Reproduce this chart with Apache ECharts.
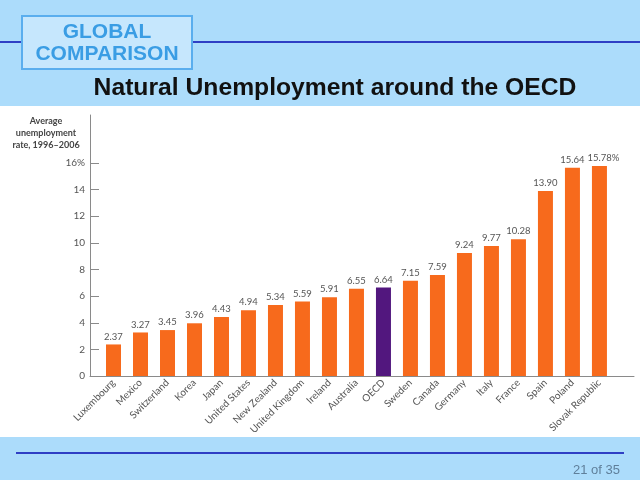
<!DOCTYPE html>
<html>
<head>
<meta charset="utf-8">
<script src="https://cdn.jsdelivr.net/npm/echarts@6/dist/echarts.min.js"></script>
<style>html,body{margin:0;padding:0;background:#acdcfb;}#c{width:640px;height:480px;}</style>
</head>
<body>
<div id="c"></div>
<script>
var categories = ['Luxembourg','Mexico','Switzerland','Korea','Japan','United States','New Zealand','United Kingdom','Ireland','Australia','OECD','Sweden','Canada','Germany','Italy','France','Spain','Poland','Slovak Republic'];
var values = [2.37,3.27,3.45,3.96,4.43,4.94,5.34,5.59,5.91,6.55,6.64,7.15,7.59,9.24,9.77,10.28,13.90,15.64,15.78];
var yTicks = [0,2,4,6,8,10,12,14,16];
var highlight = 'OECD';

var chart = echarts.init(document.getElementById('c'), null, {renderer:'canvas'});
var data = values.map(function(v,i){
  var item = {value:[i,v], itemStyle:{color: categories[i]===highlight ? '#52177e' : '#f76a1c'}};
  if (i === values.length-1) item.label = {offset:[4,0]};
  return item;
});
var chartFont = 'Lato';
var axisColor = '#8a8a8a';
chart.setOption({
  backgroundColor:'#acdcfb',
  animation:false,
  graphic:[
    {type:'rect', z:-10, shape:{x:0,y:106,width:640,height:331}, style:{fill:'#ffffff'}},
    {type:'line', shape:{x1:0,y1:42,x2:640,y2:42}, style:{stroke:'#2f3fc4',lineWidth:2}},
    {type:'rect', shape:{x:22,y:16,width:170,height:53}, style:{fill:'#c6e7fd',stroke:'#5aaeee',lineWidth:2}},
    {type:'text', x:107, y:43, style:{text:'GLOBAL\nCOMPARISON', fill:'#3a9de4', font:'bold 21px "Liberation Sans"', align:'center', verticalAlign:'middle', lineHeight:22}},
    {type:'text', x:335, y:88, style:{text:'Natural Unemployment around the OECD', fill:'#111111', font:'bold 24.7px "Liberation Sans"', align:'center', verticalAlign:'middle'}},
    {type:'line', shape:{x1:16,y1:453,x2:624,y2:453}, style:{stroke:'#2f3fc4',lineWidth:2}},
    {type:'text', x:620, y:470, style:{text:'21 of 35', fill:'#5f7f9a', font:'13px "Liberation Sans"', align:'right', verticalAlign:'middle'}},
    {type:'text', x:46, y:133, style:{text:'Average\nunemployment\nrate, 1996–2006', fill:'#444444', font:'bold 9px "Lato"', align:'center', verticalAlign:'middle', lineHeight:12}}
  ],
  grid:[
    {left:90, right:6, top:163, bottom:104, containLabel:false},
    {left:90, right:6, top:115, height:48, containLabel:false}
  ],
  xAxis:[{
    type:'value', gridIndex:0, min:-0.87, max:19.28,
    splitLine:{show:false},
    axisLine:{show:true, onZero:false, lineStyle:{color:axisColor, width:1}},
    axisTick:{show:false},
    axisLabel:{customValues:categories.map(function(c,i){return i;}), rotate:45, color:'#555555', fontSize:10, fontFamily:chartFont, margin:5,
      formatter:function(v){return categories[Math.round(v)];}}
  },{
    type:'value', gridIndex:1, show:false
  }],
  yAxis:[{
    type:'value', gridIndex:0, min:0, max:16, interval:2,
    splitLine:{show:false},
    axisLine:{show:true, onZero:false, lineStyle:{color:axisColor, width:1}},
    axisTick:{show:true, inside:true, length:9, lineStyle:{color:axisColor}},
    axisLabel:{color:'#555555', fontSize:10, fontFamily:chartFont, margin:5,
      formatter:function(v){return v===16 ? '16%' : String(v);}}
  },{
    type:'value', gridIndex:1, min:0, max:1,
    splitLine:{show:false},
    axisLine:{show:true, onZero:false, lineStyle:{color:axisColor, width:1}},
    axisTick:{show:false}, axisLabel:{show:false}
  }],
  series:[{
    type:'bar', xAxisIndex:0, yAxisIndex:0, data:data, barWidth:15,
    label:{show:true, position:'top', distance:3, color:'#555555', fontSize:9.5, fontFamily:chartFont,
      formatter:function(p){var s=p.value[1].toFixed(2); return p.dataIndex===values.length-1 ? s+'%' : s;}}
  }]
});
</script>
</body>
</html>
